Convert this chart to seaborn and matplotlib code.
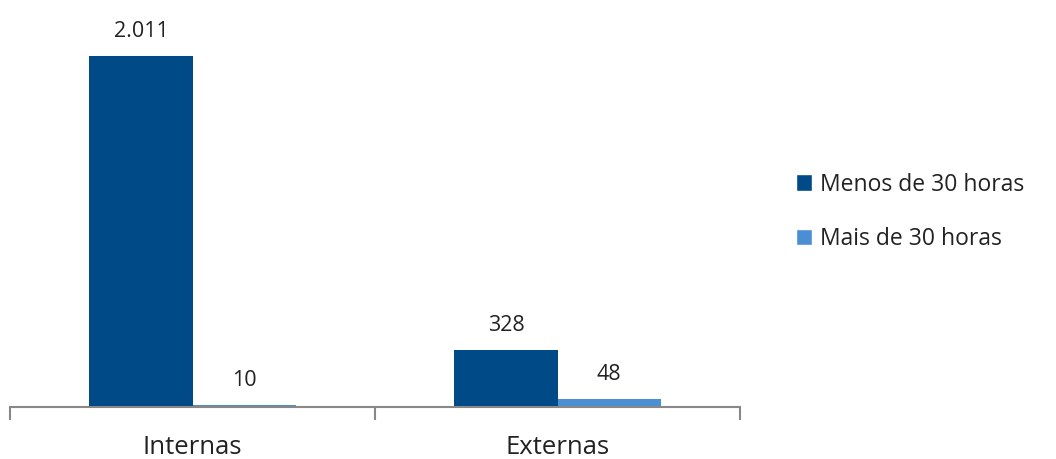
import matplotlib
matplotlib.use("Agg")
import matplotlib.pyplot as plt
import seaborn as sns
import pandas as pd
from matplotlib.patches import Patch

categories = ["Internas", "Externas"]
series = ["Menos de 30 horas", "Mais de 30 horas"]
menos_30 = [2011, 328]
mais_30 = [10, 48]
value_labels = [["2.011", "328"], ["10", "48"]]
colors = ["#004A87", "#4A8ED4"]

df = pd.DataFrame({
    "categoria": categories * 2,
    "grupo": [series[0]] * 2 + [series[1]] * 2,
    "valor": menos_30 + mais_30,
})

sns.set_style("white")
plt.rcParams["font.family"] = ["Open Sans", "DejaVu Sans"]

fig = plt.figure(figsize=(10.56, 4.59), dpi=100)
ax = fig.add_axes([10 / 1056, 1 - 407 / 459, 730 / 1056, 387 / 459])

sns.barplot(data=df, x="categoria", y="valor", hue="grupo", order=categories,
            hue_order=series, palette=colors, width=0.565, saturation=1,
            linewidth=0, legend=False, ax=ax)

for container, labels in zip(ax.containers, value_labels):
    ax.bar_label(container, labels=labels, padding=10, fontsize=15.5, color="#222222")

ax.set_xlim(-0.5, 1.5)
ax.set_ylim(0, 2011 * 387 / 351)
ax.set_xlabel("")
ax.set_ylabel("")
ax.set_yticks([])
for side in ["top", "right", "left"]:
    ax.spines[side].set_visible(False)
ax.spines["bottom"].set_color("#888888")
ax.spines["bottom"].set_linewidth(1.5)
ax.set_xticks([-0.5, 0.5, 1.5], minor=True)
ax.tick_params(axis="x", which="minor", bottom=True, length=9, width=1.5,
               color="#888888", direction="out")
ax.tick_params(axis="x", which="major", bottom=False, length=0, pad=20,
               labelsize=18.5, labelcolor="#222222")

handles = [Patch(facecolor=c, label=s) for c, s in zip(colors, series)]
fig.legend(handles=handles, loc="center left", bbox_to_anchor=(775 / 1056, 1 - 212 / 459),
           frameon=False, fontsize=16.5, handlelength=0.7, handleheight=0.7,
           handletextpad=0.35, labelspacing=1.35, labelcolor="#222222")

fig.savefig("out.png", dpi=100)
